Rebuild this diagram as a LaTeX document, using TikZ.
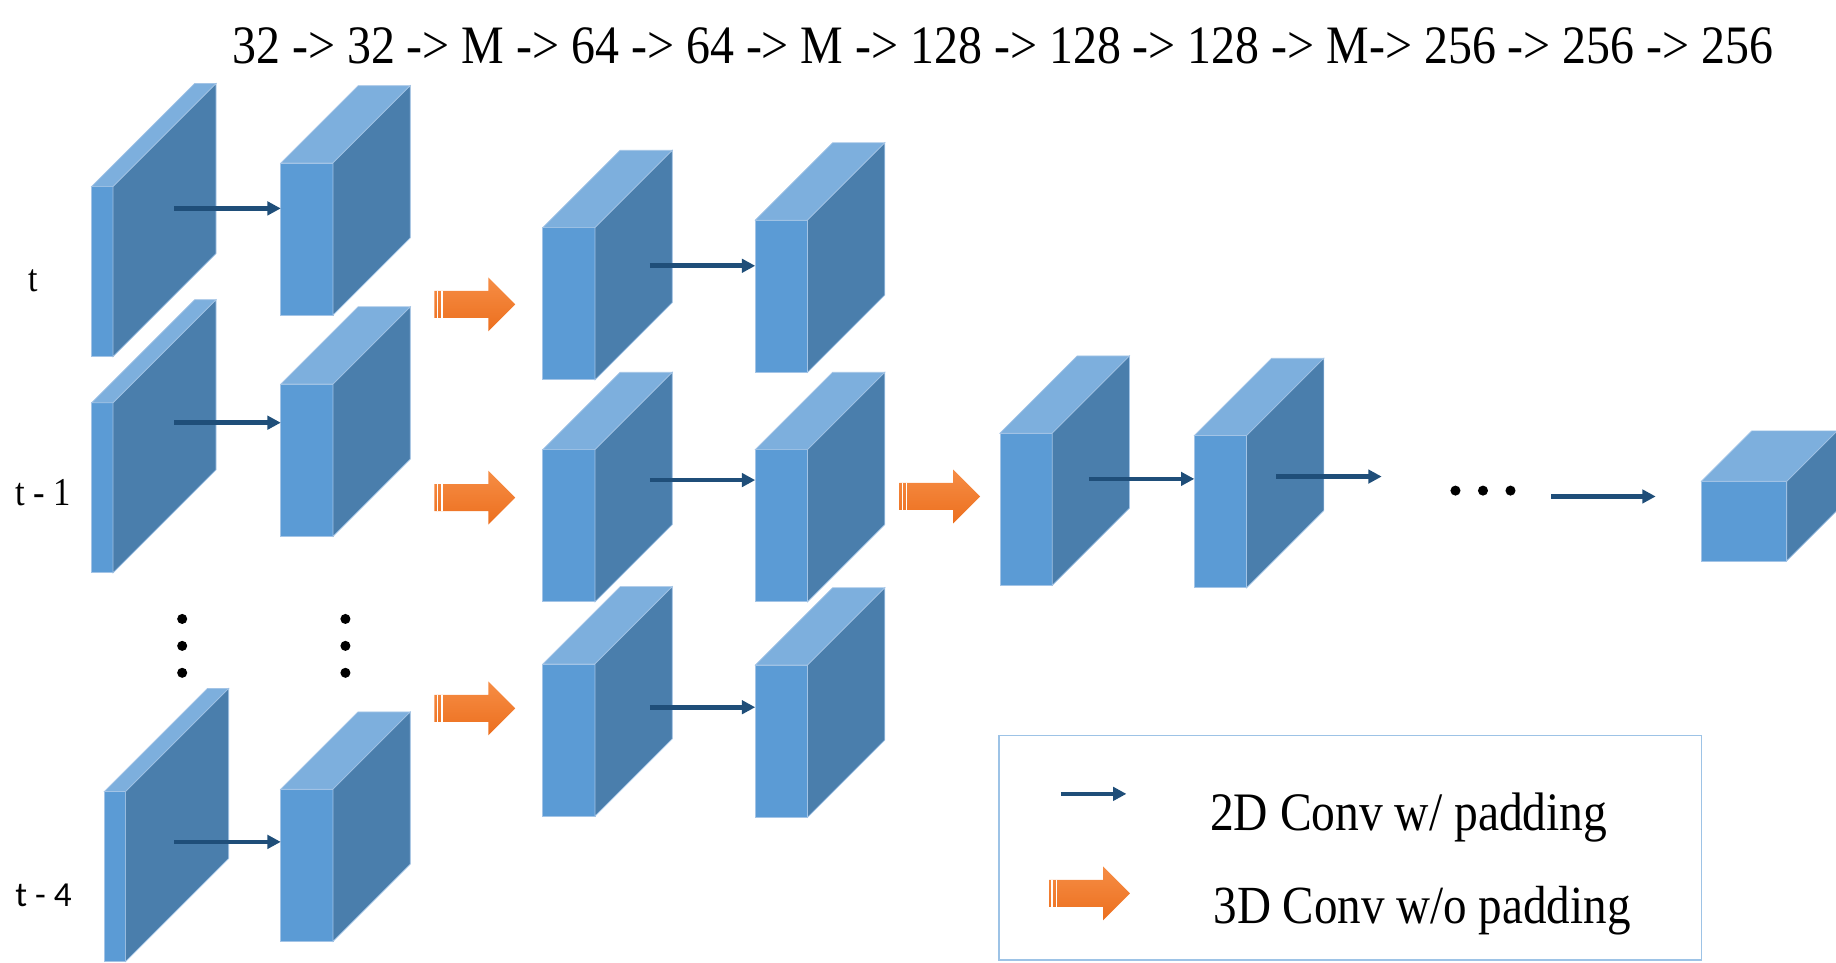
\documentclass[tikz,border=0pt]{standalone}
\usepackage{fontspec}
\setmainfont{Liberation Serif}
\newfontfamily\labelsans{Carlito}
\usepackage{tikz}
\usetikzlibrary{arrows.meta}

\definecolor{frontblue}{HTML}{5B9BD5}
\definecolor{topblue}{HTML}{7DAFDD}
\definecolor{sideblue}{HTML}{4A7EAC}
\definecolor{edgeblue}{HTML}{A3C4E6}
\definecolor{convblue}{HTML}{1F4E79}
\definecolor{orangetop}{HTML}{F68D45}
\definecolor{orangebot}{HTML}{EC6F1E}
\definecolor{legendline}{HTML}{9DC3E6}

\tikzset{
  fmapfront/.style={draw=edgeblue, line width=0.3pt, fill=frontblue, inner sep=0pt, outer sep=0pt, anchor=north west},
  fmaptop/.style={draw=edgeblue, line width=0.3pt, fill=topblue},
  fmapside/.style={draw=edgeblue, line width=0.3pt, fill=sideblue},
  conv2d/.style={draw=convblue, line width=2pt, -{Triangle[length=5.7pt,width=5.7pt]}},
  vdot/.style={circle, fill=black, inner sep=0pt, minimum size=4.3pt},
  txt/.style={anchor=base west, inner sep=0pt},
  bigfont/.style={font=\fontsize{20.3}{24}\selectfont}
}

% feature map: name, x, y (top left of front face), width, height, depth
\newcommand{\fmap}[6]{%
  \node[fmapfront, minimum width=#4*0.5pt, minimum height=#5*0.5pt] (#1) at (#2,#3) {};
  \path[fmaptop] (#1.north west) -- ++(#6,-#6) -- ++(#4,0) -- (#1.north east) -- cycle;
  \path[fmapside] (#1.north east) -- ++(#6,-#6) -- ++(0,#5) -- (#1.south east) -- cycle;
}

% 3D conv arrow: name, x, y (middle of the tail)
\newcommand{\fatarrow}[3]{%
  \coordinate (#1) at (#2,#3);
  \shade[top color=orangetop, bottom color=orangebot] (#1) ++(0,-11.5) -- ++(46,0) -- ++(0,-11.5)
    -- ++(23,23) -- ++(-23,23) -- ++(0,-11.5) -- ++(-46,0) -- cycle;
  \draw[white, line width=0.5pt] (#1) ++(2.5,-11.5) -- ++(0,23) (#1) ++(6.5,-11.5) -- ++(0,23);
}

\begin{document}
\begin{tikzpicture}[x=0.5pt, y=-0.5pt]
  \useasboundingbox (0,0) rectangle (1568,822);

  % input frames
  \fmap{a1}{78.2}{159.4}{18.3}{145.2}{88}
  \fmap{a2}{78.2}{344}{18.3}{145.2}{88}
  \fmap{a3}{89}{676}{18.3}{145.2}{88}
  \fmap{b1}{239.8}{139.2}{44.6}{130}{66}
  \fmap{b2}{239.8}{328}{44.6}{130}{66}
  \fmap{b3}{239.8}{674}{44.6}{130}{66}

  % after first 3D conv
  \fmap{c1}{463.6}{194.4}{44.6}{130}{66}
  \fmap{c2}{463.6}{384}{44.6}{130}{66}
  \fmap{c3}{463.6}{567}{44.6}{130}{66}
  \fmap{d1}{645}{188}{44.6}{130}{66}
  \fmap{d2}{645}{384}{44.6}{130}{66}
  \fmap{d3}{645}{568}{44.6}{130}{66}

  % after second 3D conv
  \fmap{e}{854}{370}{44.6}{130}{66}
  \fmap{f}{1020}{372}{44.6}{130}{66}
  \fmap{g}{1453}{411}{73}{68}{43}

  % 2D convs
  \coordinate (a1out) at (149,178);
  \coordinate (a2out) at (149,361);
  \coordinate (a3out) at (149,719);
  \coordinate (c1out) at (555,227);
  \coordinate (c2out) at (555,410);
  \coordinate (c3out) at (555,604);
  \coordinate (eout) at (930,409);
  \coordinate (fout) at (1090,407);
  \coordinate (fend) at (1180,407);
  \coordinate (hstart) at (1325,424);
  \coordinate (hend) at (1414,424);
  \draw[conv2d] (a1out) -- (a1out -| b1.west);
  \draw[conv2d] (a2out) -- (a2out -| b2.west);
  \draw[conv2d] (a3out) -- (a3out -| b3.west);
  \draw[conv2d] (c1out) -- (c1out -| d1.west);
  \draw[conv2d] (c2out) -- (c2out -| d2.west);
  \draw[conv2d] (c3out) -- (c3out -| d3.west);
  \draw[conv2d] (eout) -- (eout -| f.west);
  \draw[conv2d] (fout) -- (fend);
  \draw[conv2d] (hstart) -- (hend);

  % 3D convs
  \fatarrow{ab1}{371}{260}
  \fatarrow{ab2}{371}{425}
  \fatarrow{ab3}{371}{605}
  \fatarrow{de}{768}{424}

  % dots
  \foreach \y [count=\i] in {528.6,551.6,574.6} {
    \node[vdot] (dota\i) at (155.6,\y) {};
    \node[vdot] (dotb\i) at (295,\y) {};
  }
  \foreach \x [count=\i] in {1243,1266.5,1290} \node[vdot] (doth\i) at (\x,419) {};

  % labels
  \node[txt, font=\fontsize{20.45}{24}\selectfont] (layers) at (198,54)
    {\scalebox{1}[1.13]{32 -> 32 -> M -> 64 -> 64 -> M -> 128 -> 128 -> 128 -> M-> 256 -> 256 -> 256}};
  \node[txt, font=\fontsize{14.5}{17}\selectfont] (tnow) at (24,249) {\scalebox{1}[1.14]{t}};
  \node[txt, font=\fontsize{14.8}{17}\selectfont] (tone) at (12.8,432) {\scalebox{1}[1.14]{t - 1}};
  \node[txt, font=\labelsans\fontsize{15}{18}\selectfont] (tfour) at (12.8,774.5) {t - 4};

  % legend
  \node[draw=legendline, line width=0.6pt, minimum width=300pt, minimum height=96pt, inner sep=0pt] (legend) at (1153,724) {};
  \coordinate (key2d) at (906,678);
  \draw[conv2d] (key2d) -- ++(56,0);
  \fatarrow{key3d}{896}{763}
  \node[txt, bigfont] (pad) at (1033,709) {\scalebox{1}[1.14]{2D Conv w/ padding}};
  \node[txt, font=\fontsize{20.1}{24}\selectfont] (nopad) at (1036,788.6) {\scalebox{1}[1.14]{3D Conv w/o padding}};
\end{tikzpicture}
\end{document}
